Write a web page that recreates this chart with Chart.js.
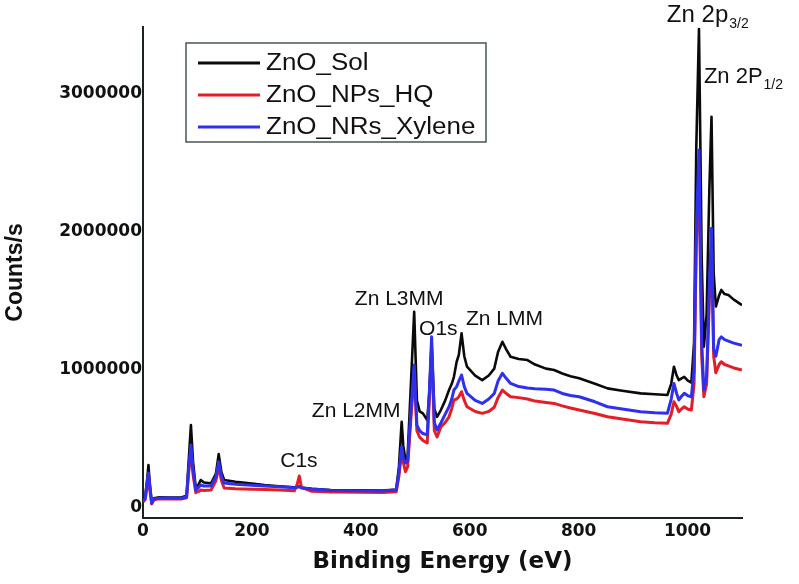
<!DOCTYPE html>
<html>
<head>
<meta charset="utf-8">
<title>XPS survey spectra</title>
<script src="https://cdn.jsdelivr.net/npm/chart.js@4.4.1/dist/chart.umd.min.js"></script>
<style>
  html, body { margin: 0; padding: 0; background: #fff; }
  #wrap { width: 799px; height: 584px; position: relative; }
</style>
</head>
<body>
<div id="wrap"><canvas id="xpsChart"></canvas></div>
<script>
// binding energy (eV), shared by the three spectra
const energy = [
  0, 4, 8, 10, 12, 16, 20, 30, 50, 70,
  80, 84, 88, 92, 97, 102, 106, 112, 125, 134,
  139, 144, 149, 170, 200, 223, 250, 278, 283, 287,
  291, 310, 345, 400, 440, 465, 470, 475, 478, 482,
  486, 492, 498, 503, 508, 514, 522, 526, 530, 535,
  540, 547, 555, 562, 567, 571, 576, 580, 585, 590,
  595, 610, 623, 635, 645, 652, 660, 667, 675, 690,
  706, 720, 740, 755, 770, 785, 801, 830, 853, 880,
  914, 940, 963, 970, 975, 980, 984, 989, 994, 1000,
  1007, 1012, 1016, 1021, 1026, 1030, 1035, 1040, 1044, 1048,
  1052, 1058, 1062, 1068, 1075, 1085, 1100
];

// counts/s
const znoSol = [
  60000, 80000, 220000, 312000, 200000, 40000, 70000, 78000, 77000, 76000,
  90000, 350000, 601000, 330000, 143000, 170000, 203000, 185000, 179000, 250000,
  391000, 260000, 203000, 190000, 178000, 167000, 158000, 150000, 152000, 158000,
  148000, 140000, 130000, 128000, 127000, 135000, 300000, 625000, 450000, 348000,
  380000, 900000, 1422000, 780000, 700000, 686000, 637000, 850000, 1200000, 720000,
  661000, 710000, 780000, 855000, 900000, 951000, 1060000, 1110000, 1266000, 1100000,
  1024000, 960000, 927000, 960000, 1010000, 1130000, 1205000, 1150000, 1096000, 1080000,
  1072000, 1040000, 1010000, 1000000, 975000, 955000, 940000, 900000, 867000, 850000,
  831000, 825000, 819000, 900000, 1024000, 960000, 927000, 940000, 951000, 925000,
  908000, 1200000, 2600000, 3470000, 1800000, 1169000, 1400000, 2300000, 2835000, 1700000,
  1460000, 1540000, 1580000, 1550000, 1543000, 1510000, 1470000
];

const znoNpsHq = [
  45000, 60000, 170000, 230000, 150000, 30000, 60000, 68000, 66000, 66000,
  75000, 260000, 420000, 240000, 111000, 120000, 130000, 128000, 130000, 200000,
  300000, 200000, 145000, 140000, 137000, 135000, 130000, 125000, 170000, 232000,
  150000, 122000, 116000, 114000, 112000, 118000, 230000, 420000, 330000, 263000,
  300000, 650000, 980000, 560000, 514000, 490000, 471000, 800000, 1150000, 560000,
  516000, 587000, 620000, 661000, 720000, 783000, 790000, 806000, 843000, 780000,
  734000, 700000, 686000, 700000, 730000, 800000, 855000, 830000, 806000, 800000,
  790000, 775000, 765000, 758000, 740000, 725000, 710000, 685000, 661000, 645000,
  625000, 618000, 614000, 680000, 770000, 735000, 698000, 718000, 734000, 718000,
  710000, 900000, 1900000, 2450000, 1100000, 806000, 900000, 1500000, 1900000, 1100000,
  980000, 1040000, 1060000, 1040000, 1030000, 1015000, 1000000
];

const znoNrsXylene = [
  50000, 70000, 200000, 254000, 170000, 35000, 65000, 72000, 72000, 71000,
  80000, 290000, 456000, 270000, 130000, 150000, 167000, 160000, 159000, 230000,
  336000, 230000, 181000, 172000, 165000, 159000, 154000, 148000, 150000, 155000,
  146000, 138000, 128000, 125000, 124000, 130000, 260000, 444000, 360000, 326000,
  340000, 700000, 1036000, 600000, 560000, 540000, 530000, 850000, 1241000, 620000,
  565000, 616000, 680000, 734000, 790000, 855000, 880000, 920000, 964000, 880000,
  831000, 780000, 758000, 790000, 830000, 920000, 976000, 940000, 903000, 880000,
  870000, 865000, 860000, 855000, 830000, 815000, 806000, 770000, 734000, 718000,
  698000, 690000, 686000, 790000, 903000, 830000, 783000, 810000, 831000, 815000,
  806000, 1000000, 2000000, 2594000, 1200000, 855000, 950000, 1600000, 2027000, 1150000,
  1100000, 1220000, 1240000, 1220000, 1210000, 1195000, 1180000
];

const seriesNames = ['ZnO_Sol', 'ZnO_NPs_HQ', 'ZnO_NRs_Xylene'];
const xTicks = [0, 200, 400, 600, 800, 1000];
const yTicks = [0, 1000000, 2000000, 3000000];

// peak annotations, anchored at (eV, counts) – left edge / baseline of the text
const peakLabels = [
  { text: 'Zn 2p', sub: '3/2', x: 962, y: 3522000, size: 24 },
  { text: 'Zn 2P', sub: '1/2', x: 1030, y: 3080000, size: 22 },
  { text: 'Zn L3MM', x: 389, y: 1471000, size: 21 },
  { text: 'O1s', x: 507, y: 1254000, size: 21 },
  { text: 'Zn LMM', x: 593, y: 1326000, size: 21 },
  { text: 'Zn L2MM', x: 310, y: 659000, size: 21 },
  { text: 'C1s', x: 252, y: 297000, size: 21 }
];

const toPoints = vals => energy.map((e, i) => ({ x: e, y: vals[i] }));

const peakLabelPlugin = {
  id: 'peakLabels',
  afterDatasetsDraw(chart) {
    const { ctx, scales: { x, y } } = chart;
    ctx.save();
    ctx.fillStyle = '#111';
    ctx.textAlign = 'left';
    ctx.textBaseline = 'alphabetic';
    peakLabels.forEach(p => {
      const px = x.getPixelForValue(p.x);
      const py = y.getPixelForValue(p.y);
      ctx.font = p.size + 'px "Liberation Sans", Arial, sans-serif';
      ctx.fillText(p.text, px, py);
      if (p.sub) {
        const w = ctx.measureText(p.text).width;
        ctx.font = '14px "Liberation Sans", Arial, sans-serif';
        ctx.fillText(p.sub, px + w + 1, py + 6);
      }
    });
    ctx.restore();
  }
};

// boxed legend sitting inside the plot, top left
const legendBoxPlugin = {
  id: 'legendBox',
  afterDraw(chart) {
    const ctx = chart.ctx;
    const box = { left: 186, top: 43, width: 300, height: 99 };
    ctx.save();
    ctx.fillStyle = '#fff';
    ctx.fillRect(box.left, box.top, box.width, box.height);
    ctx.strokeStyle = '#4a5656';
    ctx.lineWidth = 1.5;
    ctx.strokeRect(box.left, box.top, box.width, box.height);
    chart.data.datasets.forEach((ds, i) => {
      const cy = box.top + 20 + i * 32;
      ctx.strokeStyle = ds.borderColor;
      ctx.lineWidth = 3;
      ctx.beginPath();
      ctx.moveTo(198, cy);
      ctx.lineTo(260, cy);
      ctx.stroke();
      ctx.save();
      ctx.translate(266, cy + 1);
      ctx.scale(1.13, 1);
      ctx.fillStyle = '#111';
      ctx.font = '23px "Liberation Sans", Arial, sans-serif';
      ctx.textBaseline = 'middle';
      ctx.fillText(ds.label, 0, 0);
      ctx.restore();
    });
    ctx.restore();
  }
};

const tickFont = { family: '"DejaVu Sans", sans-serif', weight: 'bold', size: 17 };
const axisBorder = { display: true, color: '#1b2323', width: 2 };
const plainNumber = v => String(v);

new Chart(document.getElementById('xpsChart'), {
  type: 'line',
  data: {
    datasets: [
      { label: seriesNames[0], data: toPoints(znoSol), borderColor: '#0a0a0a', borderWidth: 2.6, order: 3 },
      { label: seriesNames[1], data: toPoints(znoNpsHq), borderColor: '#e41e26', borderWidth: 3, order: 2 },
      { label: seriesNames[2], data: toPoints(znoNrsXylene), borderColor: '#2f2ff0', borderWidth: 3, order: 1 }
    ]
  },
  options: {
    responsive: true,
    maintainAspectRatio: false,
    animation: false,
    elements: { point: { radius: 0 }, line: { tension: 0, borderJoinStyle: 'round' } },
    layout: { padding: { top: 27, right: 57, left: 0, bottom: 0 } },
    plugins: { legend: { display: false }, tooltip: { enabled: false } },
    scales: {
      x: {
        type: 'linear',
        min: 0,
        max: 1100,
        afterBuildTicks: s => { s.ticks = xTicks.map(v => ({ value: v })); },
        afterFit: s => { s.height = 66; },
        grid: { display: false, drawTicks: false },
        border: axisBorder,
        ticks: { font: tickFont, color: '#111', padding: 3, maxRotation: 0, callback: plainNumber },
        title: {
          display: true,
          text: 'Binding Energy (eV)',
          color: '#111',
          font: { family: '"DejaVu Sans", sans-serif', weight: 'bold', size: 23 },
          padding: { top: 8, bottom: 8 }
        }
      },
      y: {
        type: 'linear',
        min: -72000,
        max: 3485000,
        afterBuildTicks: s => { s.ticks = yTicks.map(v => ({ value: v })); },
        afterFit: s => { s.width = 143; },
        grid: { display: false, drawTicks: false },
        border: axisBorder,
        ticks: { font: tickFont, color: '#111', padding: 1, callback: plainNumber },
        title: {
          display: true,
          text: 'Counts/s',
          color: '#111',
          font: { family: '"Liberation Sans", Arial, sans-serif', weight: 'bold', size: 23 },
          padding: { top: 2, bottom: 0 }
        }
      }
    }
  },
  plugins: [peakLabelPlugin, legendBoxPlugin]
});
</script>
</body>
</html>
